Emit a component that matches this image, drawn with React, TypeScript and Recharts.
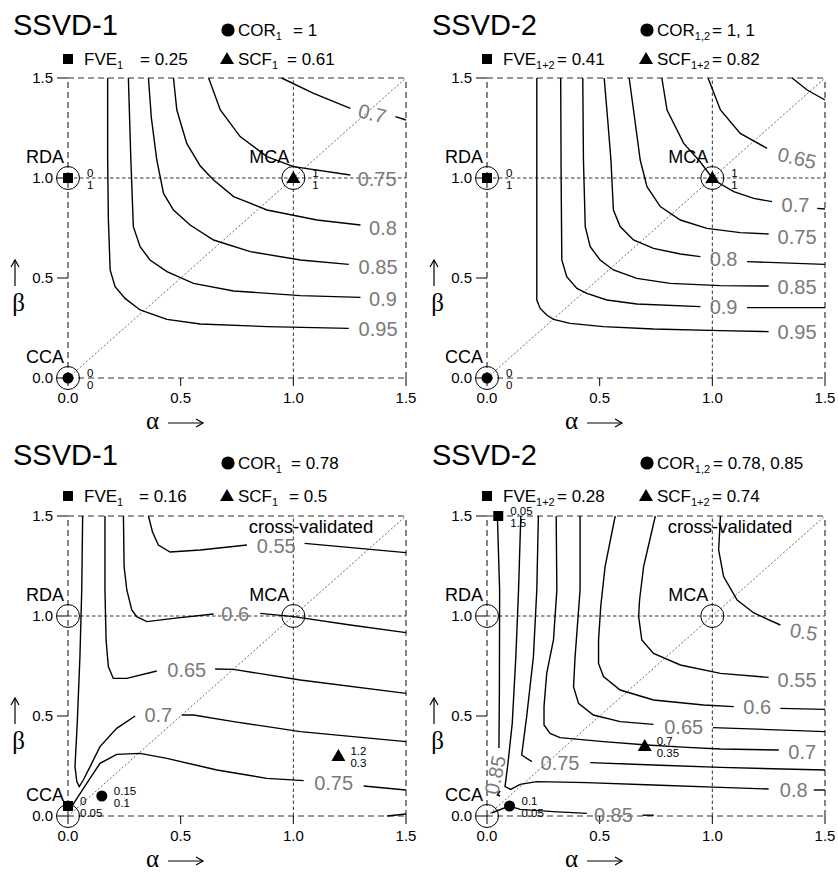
import React from "react";
import { ComposedChart, Scatter, XAxis, YAxis, ReferenceLine } from "recharts";

type XY = [number, number];
type Contour = { level: string; line: XY[]; at?: XY; tail?: XY[] };

const SANS = "'Liberation Sans', Arial, Helvetica, sans-serif";
const SERIF = "'Liberation Serif', 'DejaVu Serif', serif";

// axis ticks (alpha and beta share them)
const axisTicks = [0, 0.5, 1, 1.5];

// the three classical methods
const methodNames = ["CCA", "RDA", "MCA"];
const methodAlpha = [0, 0, 1];
const methodBeta = [0, 1, 1];

// panel headers
const panelTitles = ["SSVD-1", "SSVD-2", "SSVD-1", "SSVD-2"];
const corSub = ["1", "1,2", "1", "1,2"];
const corValue = ["1", "1, 1", "0.78", "0.78, 0.85"];
const fveSub = ["1", "1+2", "1", "1+2"];
const fveValue = ["0.25", "0.41", "0.16", "0.28"];
const scfSub = ["1", "1+2", "1", "1+2"];
const scfValue = ["0.61", "0.82", "0.5", "0.74"];
const crossValidated = [false, false, true, true];

// optimal (alpha, beta) per criterion
const fveBest: XY[] = [[0, 1], [0, 1], [0, 0.05], [0.05, 1.5]];
const scfBest: XY[] = [[1, 1], [1, 1], [1.2, 0.3], [0.7, 0.35]];
const corBest: XY[] = [[0, 0], [0, 0], [0.15, 0.1], [0.1, 0.05]];

// contour lines (alpha, beta)
const ssvd1Full: Contour[] = [
  { level: "0.95", line: [[0.176, 1.5], [0.176, 1.1], [0.179, 0.8], [0.187, 0.54], [0.209, 0.457], [0.253, 0.398], [0.32, 0.34], [0.439, 0.293], [0.587, 0.27], [0.883, 0.257], [1.246, 0.248]], at: [1.376, 0.243] },
  { level: "0.9", line: [[0.268, 1.5], [0.279, 1.09], [0.29, 0.757], [0.32, 0.657], [0.364, 0.59], [0.439, 0.532], [0.557, 0.473], [0.735, 0.435], [1.031, 0.412], [1.298, 0.403]], at: [1.398, 0.395] },
  { level: "0.85", line: [[0.357, 1.5], [0.37, 1.3], [0.394, 1.09], [0.424, 0.923], [0.468, 0.84], [0.542, 0.765], [0.646, 0.69], [0.809, 0.632], [1.031, 0.59], [1.246, 0.568]], at: [1.376, 0.557] },
  { level: "0.8", line: [[0.468, 1.5], [0.483, 1.34], [0.527, 1.173], [0.587, 1.06], [0.646, 0.99], [0.735, 0.907], [0.883, 0.84], [1.105, 0.79], [1.298, 0.765]], at: [1.398, 0.75] },
  { level: "0.75", line: [[0.624, 1.5], [0.676, 1.34], [0.764, 1.207], [0.883, 1.107], [1.001, 1.057], [1.253, 1.015]], at: [1.372, 0.995] },
  { level: "0.7", line: [[0.948, 1.5], [1.09, 1.423], [1.253, 1.348]], at: [1.35, 1.322], tail: [[1.453, 1.307], [1.5, 1.29]] },
];

const ssvd2Full: Contour[] = [
  { level: "0.95", line: [[0.221, 1.5], [0.221, 0.39], [0.236, 0.348], [0.265, 0.315], [0.295, 0.293], [0.369, 0.273], [0.517, 0.257], [0.739, 0.245], [1.036, 0.237], [1.25, 0.232]], at: [1.376, 0.228] },
  { level: "0.9", line: [[0.327, 1.5], [0.329, 1.0], [0.332, 0.59], [0.354, 0.507], [0.399, 0.448], [0.443, 0.423], [0.532, 0.39], [0.665, 0.37], [0.947, 0.357]], at: [1.05, 0.353], tail: [[1.154, 0.352], [1.5, 0.352]] },
  { level: "0.85", line: [[0.425, 1.5], [0.428, 1.09], [0.436, 0.757], [0.458, 0.657], [0.502, 0.59], [0.561, 0.54], [0.665, 0.498], [0.813, 0.473], [1.036, 0.462], [1.25, 0.46]], at: [1.376, 0.457] },
  { level: "0.8", line: [[0.52, 1.5], [0.535, 1.3], [0.55, 1.09], [0.561, 0.84], [0.591, 0.757], [0.65, 0.69], [0.739, 0.648], [0.858, 0.62], [0.947, 0.607]], at: [1.05, 0.593], tail: [[1.154, 0.582], [1.5, 0.568]] },
  { level: "0.75", line: [[0.631, 1.5], [0.655, 1.3], [0.68, 1.09], [0.71, 0.957], [0.769, 0.857], [0.858, 0.79], [0.976, 0.748], [1.124, 0.727], [1.25, 0.72]], at: [1.376, 0.705] },
  { level: "0.7", line: [[0.776, 1.5], [0.799, 1.34], [0.873, 1.173], [0.947, 1.08], [1.006, 0.99], [1.095, 0.932], [1.184, 0.898], [1.265, 0.882]], at: [1.369, 0.865], tail: [[1.465, 0.848], [1.5, 0.845]] },
  { level: "0.65", line: [[0.981, 1.5], [1.036, 1.34], [1.124, 1.223], [1.243, 1.148]], at: [1.376, 1.1] },
  { level: "0.6", line: [[1.354, 1.5], [1.421, 1.44], [1.5, 1.39]] },
];

const ssvd1Cv: Contour[] = [
  { level: "0.55", line: [[0.357, 1.5], [0.375, 1.42], [0.401, 1.355], [0.453, 1.32], [0.587, 1.33], [0.794, 1.355]], at: [0.924, 1.352], tail: [[1.05, 1.363], [1.5, 1.317]] },
  { level: "0.6", line: [[0.246, 1.5], [0.249, 1.247], [0.261, 1.13], [0.283, 1.03], [0.305, 0.997], [0.35, 0.972], [0.468, 0.988], [0.646, 1.01]], at: [0.742, 1.01], tail: [[0.853, 1.013], [1.001, 0.997], [1.253, 0.955], [1.5, 0.917]] },
  { level: "0.65", line: [[0.164, 1.5], [0.164, 1.13], [0.169, 0.88], [0.179, 0.747], [0.201, 0.688], [0.261, 0.688], [0.394, 0.725]], at: [0.527, 0.73], tail: [[0.653, 0.735], [0.735, 0.733], [1.031, 0.68], [1.5, 0.613]] },
  { level: "0.7", line: [[0.065, 1.5], [0.061, 1.13], [0.053, 0.797], [0.041, 0.463], [0.031, 0.247], [0.039, 0.172], [0.05, 0.147], [0.068, 0.18], [0.098, 0.247], [0.142, 0.347], [0.216, 0.438], [0.298, 0.5]], at: [0.401, 0.503], tail: [[0.505, 0.505], [0.557, 0.505], [0.735, 0.472], [1.031, 0.422], [1.5, 0.372]] },
  { level: "0.75", line: [[0.016, 0.047], [0.083, 0.163], [0.142, 0.263], [0.216, 0.308], [0.32, 0.313], [0.439, 0.288], [0.661, 0.23], [0.883, 0.188], [1.046, 0.177]], at: [1.179, 0.164], tail: [[1.312, 0.15], [1.5, 0.13]] },
  { level: "0.8", line: [[1.416, 0], [1.5, 0.01]] },
];

const ssvd2Cv: Contour[] = [
  { level: "0.85", line: [[0.046, 1.5], [0.056, 1.13], [0.055, 0.63], [0.053, 0.34]], at: [0.036, 0.205], tail: [[0.058, 0.125], [0.046, 0.105], [0.058, 0.1]] },
  { level: "0.8", line: [[0.15, 1.5], [0.14, 1.13], [0.128, 0.797], [0.112, 0.463], [0.093, 0.263], [0.08, 0.147], [0.105, 0.133], [0.147, 0.158], [0.221, 0.172], [0.443, 0.167], [0.739, 0.155], [1.036, 0.143], [1.25, 0.135]], at: [1.361, 0.13], tail: [[1.45, 0.13], [1.5, 0.13]] },
  { level: "0.75", line: [[0.228, 1.5], [0.221, 1.13], [0.206, 0.797], [0.176, 0.497], [0.154, 0.305], [0.199, 0.272]], at: [0.324, 0.267], tail: [[0.458, 0.267], [0.739, 0.255], [1.036, 0.243], [1.5, 0.23]] },
  { level: "0.7", line: [[0.307, 1.5], [0.31, 1.13], [0.295, 0.88], [0.265, 0.713], [0.253, 0.547], [0.253, 0.455], [0.28, 0.413], [0.324, 0.392], [0.517, 0.372], [0.71, 0.355], [0.888, 0.343], [1.036, 0.335], [1.295, 0.33]], at: [1.399, 0.322] },
  { level: "0.65", line: [[0.413, 1.5], [0.413, 1.13], [0.391, 0.797], [0.384, 0.647], [0.406, 0.563], [0.472, 0.505], [0.591, 0.472], [0.739, 0.458]], at: [0.873, 0.447], tail: [[1.003, 0.442], [1.5, 0.422]] },
  { level: "0.6", line: [[0.569, 1.5], [0.524, 1.247], [0.505, 1.05], [0.495, 0.88], [0.495, 0.763], [0.517, 0.697], [0.591, 0.63], [0.739, 0.58], [0.961, 0.555], [1.095, 0.547]], at: [1.199, 0.543], tail: [[1.302, 0.538], [1.5, 0.533]] },
  { level: "0.55", line: [[0.747, 1.5], [0.695, 1.247], [0.677, 1.08], [0.673, 0.997], [0.687, 0.88], [0.739, 0.813], [0.858, 0.755], [1.036, 0.713], [1.25, 0.693]], at: [1.376, 0.68] },
  { level: "0.5", line: [[1.036, 1.5], [1.028, 1.33], [1.05, 1.197], [1.11, 1.08], [1.184, 1.015], [1.302, 0.955]], at: [1.406, 0.92] },
  { level: "0.85", line: [[0.02, 0.015], [0.099, 0.05], [0.147, 0.033], [0.295, 0.022], [0.443, 0.013]], at: [0.561, 0.006], tail: [[0.69, 0.004], [0.74, 0.004]] },
];

const panelContours = [ssvd1Full, ssvd2Full, ssvd1Cv, ssvd2Cv];

// label tilt (degrees), keyed "panel-contour"
const labelTilt: Record<string, number> = { "0-5": 14, "1-6": 13, "3-7": 10, "3-0": -78 };

// layout per panel
const panelLeft = [0, 419, 0, 419];
const panelTop = [0, 0, 438, 438];
const panelHeight = [436, 436, 434, 434];
const titleBase = [35, 35, 27, 27];
const row1Base = [36, 36, 31, 31];
const row2Base = [65, 65, 64, 64];
const corEqX = [293, 293, 291, 294];
const fveEqX = [140, 138, 139, 138];
const scfEqX = [287, 293, 289, 293];

const toPts = (a: XY[]) => a.map(([x, y]) => ({ x, y }));
const noDot = () => <g />;

function markerGlyph(kind: string, cx: number, cy: number, s = 1) {
  if (kind === "circle") return <circle cx={cx} cy={cy} r={5.5 * s} fill="#000" />;
  if (kind === "square") return <rect x={cx - 5 * s} y={cy - 5 * s} width={10 * s} height={10 * s} fill="#000" />;
  return (
    <path
      d={`M${cx},${cy - 7 * s}L${cx + 7 * s},${cy + 5 * s}L${cx - 7 * s},${cy + 5 * s}Z`}
      fill="#000"
    />
  );
}

function Panel({ idx }: { idx: number }) {
  const h = panelHeight[idx];
  const contours = panelContours[idx];
  const off = idx < 2 ? 19 : 12;

  const levelLabels = contours
    .map((c, i) => (c.at ? { x: c.at[0], y: c.at[1], level: c.level, key: `${idx}-${i}` } : null))
    .filter(Boolean) as { x: number; y: number; level: string; key: string }[];

  const anchors = methodNames.map((n, i) => ({ x: methodAlpha[i], y: methodBeta[i], name: n }));

  const markerShape = (kind: string) => (p: any) => {
    const { cx, cy, payload } = p;
    return (
      <g>
        {markerGlyph(kind, cx, cy)}
        <text x={cx + off} y={cy - 5} fontSize={11.5} fontFamily={SANS} fill="#000" stroke="none" dominantBaseline="central">
          {String(payload.x)}
        </text>
        <text x={cx + off} y={cy + 7} fontSize={11.5} fontFamily={SANS} fill="#000" stroke="none" dominantBaseline="central">
          {String(payload.y)}
        </text>
      </g>
    );
  };

  const sub = (t: string) => (
    <tspan fontSize={11} dy={4}>
      {t}
    </tspan>
  );

  return (
    <div style={{ position: "absolute", left: panelLeft[idx], top: panelTop[idx], width: 419, height: h }}>
      <ComposedChart width={419} height={h} margin={{ top: 78, right: 13, bottom: h - 408, left: 8 }}>
        <XAxis
          type="number"
          dataKey="x"
          domain={[0, 1.5]}
          ticks={axisTicks}
          interval={0}
          axisLine={false}
          tickLine={{ stroke: "#000" }}
          tickSize={8}
          tickMargin={6}
          height={30}
          tickFormatter={(v: number) => v.toFixed(1)}
          tick={{ fill: "#000", fontSize: 15, fontFamily: SANS }}
        />
        <YAxis
          type="number"
          dataKey="y"
          domain={[0, 1.5]}
          ticks={axisTicks}
          interval={0}
          axisLine={false}
          tickLine={{ stroke: "#000" }}
          tickSize={11}
          tickMargin={4}
          width={60}
          tickFormatter={(v: number) => v.toFixed(1)}
          tick={{ fill: "#000", fontSize: 15, fontFamily: SANS }}
        />
        <ReferenceLine x={0} stroke="#333" strokeWidth={1.2} strokeDasharray="6 4" />
        <ReferenceLine x={1.5} stroke="#333" strokeWidth={1.2} strokeDasharray="6 4" />
        <ReferenceLine y={0} stroke="#333" strokeWidth={1.2} strokeDasharray="6 4" />
        <ReferenceLine y={1.5} stroke="#333" strokeWidth={1.2} strokeDasharray="6 4" />
        <ReferenceLine x={1} stroke="#333" strokeWidth={1} strokeDasharray="3.5 2.5" />
        <ReferenceLine y={1} stroke="#333" strokeWidth={1} strokeDasharray="3.5 2.5" />
        <ReferenceLine
          segment={[{ x: 0, y: 0 }, { x: 1.5, y: 1.5 }]}
          stroke="#444"
          strokeWidth={0.8}
          strokeDasharray="2 2"
        />
        {contours.flatMap((c, i) =>
          [c.line, c.tail]
            .filter((p): p is XY[] => !!p)
            .map((part, j) => (
              <Scatter
                key={`c${i}-${j}`}
                data={toPts(part)}
                line={{ stroke: "#000", strokeWidth: 1.4 }}
                shape={noDot}
                isAnimationActive={false}
              />
            ))
        )}
        <Scatter
          data={levelLabels}
          isAnimationActive={false}
          shape={(p: any) => {
            const t = labelTilt[p.payload.key] ?? 0;
            return (
              <text
                x={p.cx}
                y={p.cy}
                textAnchor="middle"
                dominantBaseline="central"
                fontSize={20}
                fontFamily={SANS}
                fill="#7a7a7a"
                stroke="none"
                transform={`rotate(${t} ${p.cx} ${p.cy})`}
              >
                {p.payload.level}
              </text>
            );
          }}
        />
        <Scatter
          data={anchors}
          isAnimationActive={false}
          shape={(p: any) => (
            <g>
              <circle cx={p.cx} cy={p.cy} r={11.5} fill="none" stroke="#000" strokeWidth={1} />
              <text x={p.cx - 4} y={p.cy - 15.5} textAnchor="end" fontSize={18} fontFamily={SANS} fill="#000" stroke="none">
                {p.payload.name}
              </text>
            </g>
          )}
        />
        <Scatter data={toPts([fveBest[idx]])} shape={markerShape("square")} isAnimationActive={false} />
        <Scatter data={toPts([scfBest[idx]])} shape={markerShape("triangle")} isAnimationActive={false} />
        <Scatter data={toPts([corBest[idx]])} shape={markerShape("circle")} isAnimationActive={false} />
      </ComposedChart>
      <svg
        width={419}
        height={h}
        style={{ position: "absolute", left: 0, top: 0, pointerEvents: "none" }}
        fontFamily={SANS}
      >
        <text x={13} y={titleBase[idx]} fontSize={29}>
          {panelTitles[idx]}
        </text>
        {markerGlyph("circle", 228, row1Base[idx] - 6, 1.2)}
        <text x={238} y={row1Base[idx]} fontSize={17}>
          COR{sub(corSub[idx])}
        </text>
        <text x={corEqX[idx]} y={row1Base[idx]} fontSize={17}>
          = {corValue[idx]}
        </text>
        {markerGlyph("square", 68, row2Base[idx] - 6)}
        <text x={84} y={row2Base[idx]} fontSize={17}>
          FVE{sub(fveSub[idx])}
        </text>
        <text x={fveEqX[idx]} y={row2Base[idx]} fontSize={17}>
          = {fveValue[idx]}
        </text>
        {markerGlyph("triangle", 227, row2Base[idx] - 6)}
        <text x={238} y={row2Base[idx]} fontSize={17}>
          SCF{sub(scfSub[idx])}
        </text>
        <text x={scfEqX[idx]} y={row2Base[idx]} fontSize={17}>
          = {scfValue[idx]}
        </text>
        {crossValidated[idx] && (
          <text x={311} y={95} fontSize={18.5} textAnchor="middle">
            cross-validated
          </text>
        )}
        <text x={146} y={429} fontSize={25} fontFamily={SERIF}>
          α
        </text>
        <line x1={168} y1={423} x2={203} y2={423} stroke="#000" strokeWidth={1.2} />
        <polyline points="196,419 203,423 196,427" fill="none" stroke="#000" strokeWidth={1.2} />
        <line x1={15} y1={286} x2={15} y2={260} stroke="#000" strokeWidth={1.2} />
        <polyline points="11,267 15,260 19,267" fill="none" stroke="#000" strokeWidth={1.2} />
        <text x={18.5} y={311} fontSize={25} fontFamily={SERIF} textAnchor="middle">
          β
        </text>
      </svg>
    </div>
  );
}

export default function App() {
  return (
    <div style={{ position: "absolute", left: 0, top: 0, width: 838, height: 872, background: "#fff" }}>
      {[0, 1, 2, 3].map((i) => (
        <Panel key={i} idx={i} />
      ))}
    </div>
  );
}
